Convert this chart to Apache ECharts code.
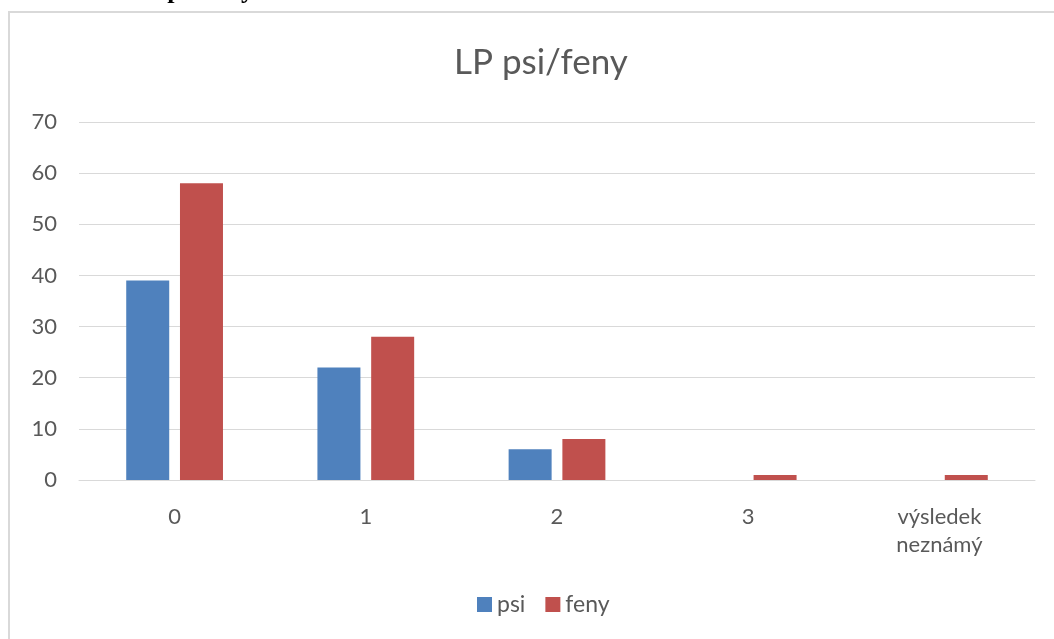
<!DOCTYPE html>
<html>
<head>
<meta charset="utf-8">
<script src="https://cdn.jsdelivr.net/npm/echarts@6/dist/echarts.min.js"></script>
<style>
  html, body { margin: 0; padding: 0; background: #fff; }
  #chart { width: 1054px; height: 639px; }
</style>
</head>
<body>
<div id="chart"></div>
<script>
  const categories = ["0", "1", "2", "3", "výsledek\nneznámý"];
  const psi = [39, 22, 6, 0, 0];
  const feny = [58, 28, 8, 1, 1];
  const yTicks = { min: 0, max: 70, interval: 10 };

  const font = "Lato, 'Open Sans', sans-serif";
  const textColor = "#595959";

  let chartDom = document.getElementById("chart");
  let myChart = echarts.init(chartDom);

  let option = {
    backgroundColor: "#fff",
    animation: false,
    graphic: [
      {
        // chart frame, cut off on the right and bottom
        type: "rect",
        shape: { x: 9, y: 12, width: 1100, height: 700 },
        style: { fill: "none", stroke: "#d9d9d9", lineWidth: 2 },
        silent: true,
      },
      {
        // caption above the frame, mostly cropped by the page edge
        type: "text",
        x: 254,
        y: -9,
        style: {
          text: "LP psi/feny",
          font: "bold 26px 'Liberation Serif', serif",
          fill: "#000",
          align: "right",
          verticalAlign: "middle",
        },
        silent: true,
      },
    ],
    title: {
      text: "LP psi/feny",
      left: 449,
      top: 40,
      textStyle: {
        fontFamily: font,
        fontSize: 35,
        fontWeight: "normal",
        color: textColor,
      },
    },
    legend: {
      bottom: 18,
      left: 472,
      itemWidth: 15,
      itemHeight: 15,
      itemGap: 20,
      icon: "rect",
      textStyle: { fontFamily: font, fontSize: 23, color: textColor },
      data: ["psi", "feny"],
    },
    grid: {
      left: 79,
      right: 19,
      top: 122,
      bottom: 159,
    },
    xAxis: {
      type: "category",
      data: categories,
      axisTick: { show: false },
      axisLine: { lineStyle: { color: "#d9d9d9", width: 1 } },
      axisLabel: {
        fontFamily: font,
        fontSize: 22,
        color: textColor,
        margin: 23,
        lineHeight: 28,
        interval: 0,
      },
    },
    yAxis: {
      type: "value",
      min: yTicks.min,
      max: yTicks.max,
      interval: yTicks.interval,
      axisLine: { show: false },
      axisTick: { show: false },
      splitLine: { lineStyle: { color: "#d9d9d9", width: 1 } },
      axisLabel: {
        fontFamily: font,
        fontSize: 22,
        color: textColor,
        margin: 22,
      },
    },
    series: [
      {
        name: "psi",
        type: "bar",
        data: psi,
        barWidth: 43,
        barGap: "25%",
        itemStyle: { color: "#4F81BD" },
      },
      {
        name: "feny",
        type: "bar",
        data: feny,
        barWidth: 43,
        itemStyle: { color: "#C0504D" },
      },
    ],
  };

  option && myChart.setOption(option);
</script>
</body>
</html>
